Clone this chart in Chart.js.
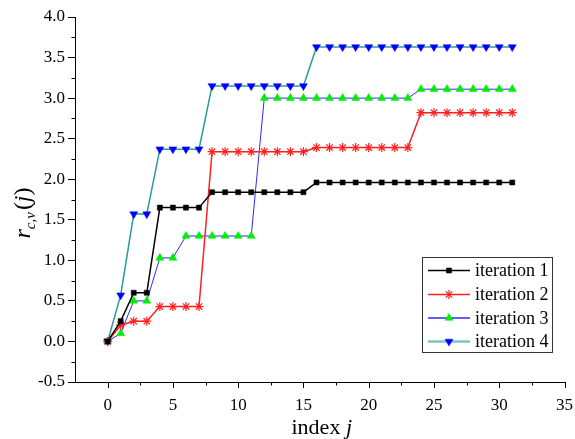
<!DOCTYPE html>
<html>
<head>
<meta charset="utf-8">
<script src="https://cdn.jsdelivr.net/npm/chart.js@4/dist/chart.umd.min.js"></script>
<style>
html,body{margin:0;padding:0;background:#fff;}
#wrap{width:575px;height:439px;position:relative;}
.pre{font-family:"Liberation Serif";position:absolute;left:-9999px;top:0;}
</style>
</head>
<body>
<div class="pre">0123456789 iteration index <i>j</i></div>
<div id="wrap"><canvas id="c" width="575" height="439"></canvas></div>
<script>
// ---- data ----
const indexJ = [0,1,2,3,4,5,6,7,8,9,10,11,12,13,14,15,16,17,18,19,20,21,22,23,24,25,26,27,28,29,30,31];
const iteration1 = [0,0.25,0.6,0.6,1.65,1.65,1.65,1.65,1.84,1.84,1.84,1.84,1.84,1.84,1.84,1.84,1.96,1.96,1.96,1.96,1.96,1.96,1.96,1.96,1.96,1.96,1.96,1.96,1.96,1.96,1.96,1.96];
const iteration2 = [0,0.2,0.25,0.25,0.43,0.43,0.43,0.43,2.34,2.34,2.34,2.34,2.34,2.34,2.34,2.34,2.39,2.39,2.39,2.39,2.39,2.39,2.39,2.39,2.82,2.82,2.82,2.82,2.82,2.82,2.82,2.82];
const iteration3 = [0,0.1,0.5,0.5,1.03,1.03,1.3,1.3,1.3,1.3,1.3,1.3,3.0,3.0,3.0,3.0,3.0,3.0,3.0,3.0,3.0,3.0,3.0,3.0,3.11,3.11,3.11,3.11,3.11,3.11,3.11,3.11];
const iteration4 = [0,0.57,1.57,1.57,2.37,2.37,2.37,2.37,3.15,3.15,3.15,3.15,3.15,3.15,3.15,3.15,3.63,3.63,3.63,3.63,3.63,3.63,3.63,3.63,3.63,3.63,3.63,3.63,3.63,3.63,3.63,3.63];
const seriesNames = ['iteration 1','iteration 2','iteration 3','iteration 4'];
const xTickLabels = [0,5,10,15,20,25,30,35];
const yTickLabels = [-0.5,0,0.5,1,1.5,2,2.5,3,3.5,4];

const FONT = "'Liberation Serif', 'Times New Roman', Times, serif";
const pts = arr => arr.map((v,i)=>({x:indexJ[i], y:v}));

const styles = [
  {line:'#000000', fill:'#000000', stroke:'#000000', ps:'rect', r:3.6, rot:0, lw:1.5},
  {line:'#ff2020', fill:'#ff2020', stroke:'#ff2020', ps:'star', r:4.5, rot:0, lw:1.5},
  {line:'#2a2aff', fill:'#00ee00', stroke:'#00ee00', ps:'triangle', r:4.6, rot:0, lw:1},
  {line:'#2a9a9a', fill:'#0000ff', stroke:'#0000ff', ps:'triangle', r:4.6, rot:180, lw:1.5}
];
const allData = [iteration1, iteration2, iteration3, iteration4];

const datasets = allData.map((d,i)=>({
  label: seriesNames[i],
  data: pts(d),
  borderColor: styles[i].line,
  borderWidth: styles[i].lw,
  pointStyle: styles[i].ps,
  pointRadius: styles[i].r,
  pointRotation: styles[i].rot,
  pointBackgroundColor: styles[i].fill,
  pointBorderColor: styles[i].stroke,
  pointBorderWidth: i===1 ? 1.2 : 0.5,
  tension: 0,
  fill: false
}));

function isMajorX(v){ return xTickLabels.some(t=>Math.abs(t-v)<1e-6); }
function isMajorY(v){ return yTickLabels.some(t=>Math.abs(t-v)<1e-6); }

// tick marks drawn from the library's scales (x: major 6px, minor 3.5px; y minor 3.5px)
const tickMarks = {
  id:'tickMarks',
  afterDraw(chart){
    const ctx = chart.ctx, xs = chart.scales.x, ys = chart.scales.y;
    ctx.save();
    ctx.strokeStyle = '#000'; ctx.lineWidth = 1;
    xs.ticks.forEach(t=>{
      if (t.value <= xs.min + 1e-6) return;
      const len = isMajorX(t.value) ? 6 : 3.5;
      const px = Math.round(xs.getPixelForValue(t.value))+0.5;
      ctx.beginPath(); ctx.moveTo(px, xs.top); ctx.lineTo(px, xs.top+len); ctx.stroke();
    });
    ys.ticks.forEach(t=>{
      if (!isMajorY(t.value)){
        const py = Math.round(ys.getPixelForValue(t.value))+0.5;
        ctx.beginPath(); ctx.moveTo(ys.right, py); ctx.lineTo(ys.right-3.5, py); ctx.stroke();
      }
    });
    ctx.restore();
  }
};

const titles = {
  id:'titles',
  afterDraw(chart){
    const ctx = chart.ctx, ca = chart.chartArea;
    ctx.save();
    ctx.fillStyle = '#000';
    ctx.textBaseline = 'alphabetic';
    const f1 = '22px ' + FONT, f1i = 'italic 22px ' + FONT;
    ctx.font = f1; const w1 = ctx.measureText('index ').width;
    ctx.font = f1i; const w2 = ctx.measureText('j').width;
    let x0 = (ca.left+ca.right)/2 - (w1+w2)/2 + 2;
    const yb = 434;
    ctx.font = f1; ctx.textAlign='left'; ctx.fillText('index ', x0, yb);
    ctx.font = f1i; ctx.fillText('j', x0+w1, yb);
    const parts = [
      {t:'r', f:'italic 24px '+FONT, dy:0},
      {t:'c,v', f:'italic 15px '+FONT, dy:5},
      {t:'(', f:'24px '+FONT, dy:0},
      {t:'j', f:'italic 24px '+FONT, dy:0},
      {t:')', f:'24px '+FONT, dy:0}
    ];
    let tot = 0;
    parts.forEach(p=>{ ctx.font=p.f; p.w = ctx.measureText(p.t).width + (p.t==='c,v'?2:0); tot += p.w; });
    ctx.translate(30, 213);
    ctx.rotate(-Math.PI/2);
    let cx = -tot/2;
    parts.forEach(p=>{ ctx.font=p.f; ctx.fillText(p.t, cx, p.dy); cx += p.w; });
    ctx.restore();
  }
};

const boxLegend = {
  id:'boxLegend',
  afterDraw(chart){
    const ctx = chart.ctx;
    const bx = 422.5, by = 257.5, bw = 130, bh = 95;
    ctx.save();
    ctx.fillStyle = '#fff';
    ctx.fillRect(bx, by, bw, bh);
    ctx.strokeStyle = '#333'; ctx.lineWidth = 1;
    ctx.strokeRect(bx, by, bw, bh);
    const rows = [270.5, 294.5, 318, 341.5];
    chart.data.datasets.forEach((ds,i)=>{
      const y = rows[i];
      ctx.strokeStyle = i===3 ? '#7cc4c4' : ds.borderColor; ctx.lineWidth = i===3 ? 2.5 : 1.5;
      ctx.beginPath(); ctx.moveTo(428, y); ctx.lineTo(470, y); ctx.stroke();
      ctx.fillStyle = ds.pointBackgroundColor; ctx.strokeStyle = ds.pointBorderColor;
      ctx.lineWidth = ds.pointBorderWidth;
      Chart.helpers.drawPoint(ctx, {
        pointStyle: ds.pointStyle, rotation: ds.pointRotation,
        radius: ds.pointRadius, borderWidth: ds.pointBorderWidth
      }, 449, y);
      ctx.fillStyle = '#000';
      ctx.font = '18px ' + FONT;
      ctx.textAlign = 'left'; ctx.textBaseline = 'middle';
      ctx.fillText(ds.label, 475, y + 1);
    });
    ctx.restore();
  }
};

function build(){
  new Chart(document.getElementById('c'), {
    type:'line',
    data:{ datasets },
    options:{
      responsive:false,
      animation:false,
      layout:{ padding:{ top:17, right:8, left:0, bottom:0 } },
      plugins:{ legend:{display:false}, tooltip:{enabled:false} },
      scales:{
        x:{
          type:'linear', min:-2.5, max:35,
          afterFit(s){ s.height = 57; },
          border:{ display:true, color:'#000', width:1 },
          grid:{ drawOnChartArea:false, drawTicks:true, tickLength:11,
            tickColor:'rgba(0,0,0,0)' },
          ticks:{ stepSize:2.5, autoSkip:false, maxRotation:0, padding:2, color:'#000',
            font:{ family:FONT, size:17 },
            callback: v => isMajorX(v) ? String(v) : '' }
        },
        y:{
          type:'linear', min:-0.5, max:4.0,
          afterFit(s){ s.width = 75; },
          border:{ display:true, color:'#000', width:1 },
          grid:{ drawOnChartArea:false, drawTicks:true, tickLength:7,
            tickColor: c => (c.tick && isMajorY(c.tick.value)) ? '#000' : 'rgba(0,0,0,0)' },
          ticks:{ stepSize:0.25, autoSkip:false, padding:3, color:'#000',
            font:{ family:FONT, size:17 },
            callback: v => isMajorY(v) ? Number(v).toFixed(1) : '' }
        }
      }
    },
    plugins:[tickMarks, titles, boxLegend]
  });
}
Promise.all([
  document.fonts.load("17px 'Liberation Serif'"),
  document.fonts.load("italic 22px 'Liberation Serif'")
]).then(build, build);
</script>
</body>
</html>
